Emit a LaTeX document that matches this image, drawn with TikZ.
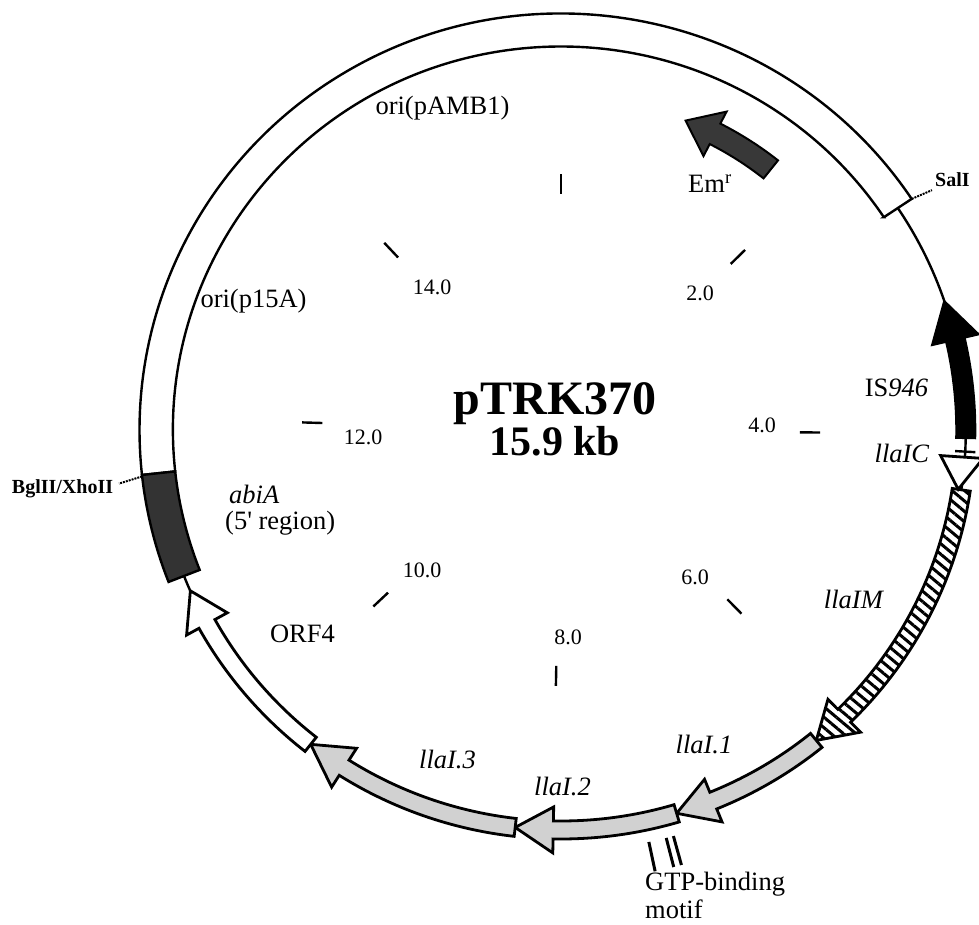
\documentclass[tikz,border=0pt]{standalone}
\usepackage{fontspec}
\setmainfont{Liberation Serif}
\usetikzlibrary{patterns.meta}
\tikzset{
  ring/.style={line width=2.4pt},
  kbtick/.style={line width=2.4pt},
  band/.style={draw, line width=2.4pt, fill=white},
  gene/.style={draw, line width=2.8pt, line join=miter},
  blackgene/.style={gene, fill=black},
  whitegene/.style={gene, fill=white},
  dotgene/.style={gene, fill=black!18},
  hatchgene/.style={gene, fill=white, postaction={pattern={Lines[angle=-40,distance=8pt,line width=3pt]}}},
  leader/.style={line width=2pt, densely dotted},
  lab/.style={inner sep=0pt, font=\fontsize{26.5}{30}\selectfont},
  site/.style={inner sep=0pt, font=\bfseries\fontsize{20}{22}\selectfont},
  kblab/.style={inner sep=0pt, font=\fontsize{22}{24}\selectfont},
}
\begin{document}
\begin{tikzpicture}[x=1pt, y=1pt]
\useasboundingbox (0,0) rectangle (979,924);
\begin{scope}[shift={(561,494)}, xscale=1.012]
  % map circle and vector backbone
  \draw[ring] (0,0) circle[radius=400];
  \draw[band] (33.7:383.5) -- (33.7:416.5) arc[start angle=33.7, end angle=186.2, radius=416.5]
    -- (186.2:383.5) arc[start angle=186.2, end angle=33.7, radius=383.5] -- cycle;
  \draw[band, fill=black!80] (186.2:383.5) -- (186.2:416.5) arc[start angle=186.2, end angle=201.4, radius=416.5]
    -- (201.4:383.5) arc[start angle=201.4, end angle=186.2, radius=383.5] -- cycle;
  \coordinate (sal) at (33.7:416.5);
  \coordinate (salend) at (33.2:438);
  \coordinate (bgl) at (186.4:416.5);
  \coordinate (bglend) at (187:440);
  \draw[leader] (sal) -- (salend);
  \draw[leader] (bgl) -- (bglend);
  % genes: tail / head base / tip
  \foreach \ta/\hb/\tp/\sty in {-1.1/13.1/18.7/blackgene, -8.6/-45.6/-50.9/hatchgene,
      -50.9/-67.9/-73.4/dotgene, -73.4/-91.1/-96.5/dotgene, -96.5/-122.4/-128.2/dotgene,
      -128.2/-151/-156.3/whitegene}
    \draw[\sty] (\ta:409) arc[start angle=\ta, end angle=\hb, radius=409] -- (\hb:423) -- (\tp:400)
      -- (\hb:377) -- (\hb:391) arc[start angle=\hb, end angle=\ta, radius=391] -- cycle;
  \draw[ring] (-3.1:390) -- (-3.1:410);
  \draw[whitegene] (-3.9:376) -- (-3.9:418) -- (-8.6:397) -- cycle;
  % Em arrow
  \draw[gene, line width=2pt, fill=black!78] (51.5:344.5) arc[start angle=51.5, end angle=62.8, radius=344.5]
    -- (62.8:358) -- (68.3:333) -- (62.8:308) -- (62.8:321.5) arc[start angle=62.8, end angle=51.5, radius=321.5] -- cycle;
  % GTP-binding motif
  \foreach \a in {-78.1,-75.7,-74.7}
    \draw[line width=3pt] (\a:421) -- (\a:451);
  % kb ticks
  \foreach \p in {0,2,...,14}
    \draw[kbtick] ({90-\p*360/15.9}:236) -- ({90-\p*360/15.9}:256);
\end{scope}
\foreach \lab/\lx/\ly in {2.0/700/631, 4.0/762/499, 6.0/695/347, 8.0/568/287,
    10.0/422/354, 12.0/363/487, 14.0/432/637}
  \node[kblab] (kb\lab) at (\lx,\ly) {\lab};
\node[inner sep=0pt, align=center, anchor=north, font=\bfseries\fontsize{48}{35}\selectfont] (name)
  at (555,541.4) {pTRK370\\{\fontsize{42}{35}\selectfont 15.9 kb}};
\node[lab, anchor=base] (pamb) at (442.5,809) {ori(pAMB1)};
\node[lab, anchor=base] (pfa) at (253.5,616) {ori(p15A)};
\node[lab, anchor=base west] (em) at (688,731) {Em\textsuperscript{r}};
\node[site, anchor=base west] (sall) at (935,737) {SalI};
\node[site, anchor=base] (bglii) at (62.5,430) {BglII/XhoII};
\node[lab, anchor=base] (is) at (896.5,527) {IS\textit{946}};
\node[lab, anchor=base] (llaic) at (902,461) {\textit{llaIC}};
\node[lab, anchor=base] (llaim) at (854,316) {\textit{llaIM}};
\node[lab, anchor=base] (llai1) at (704,171) {\textit{llaI.1}};
\node[lab, anchor=base] (llai2) at (562.5,129) {\textit{llaI.2}};
\node[lab, anchor=base] (llai3) at (447.5,156) {\textit{llaI.3}};
\node[lab, anchor=base] (orf) at (302.5,281) {ORF4};
\node[lab, align=left, anchor=north west, font=\fontsize{26.5}{26}\selectfont] (abia)
  at (225,439) {\hspace*{4pt}\textit{abiA}\\(5\textquotesingle{} region)};
\node[lab, anchor=base west] (gtp) at (645,34) {GTP-binding};
\node[lab, anchor=base west] (motif) at ([yshift=-28pt]gtp.base west) {motif};
\end{tikzpicture}
\end{document}
